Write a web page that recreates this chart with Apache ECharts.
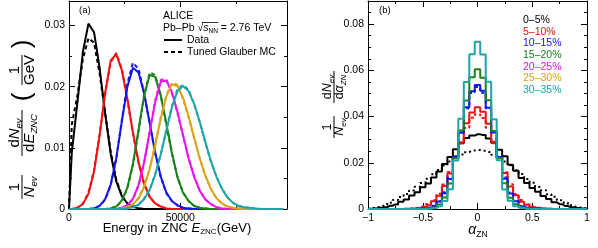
<!DOCTYPE html>
<html><head><meta charset="utf-8">
<script src="https://cdn.jsdelivr.net/npm/echarts@6/dist/echarts.min.js"></script>
<style>html,body{margin:0;padding:0;background:#fff}#c{width:598px;height:248px}</style>
</head><body><div id="c"></div>
<script>
const FONT = "'Liberation Sans', Arial, Helvetica, sans-serif";

// ---------- categories ----------
const centralities = ['0–5%','5–10%','10–15%','15–20%','20–25%','25–30%','30–35%'];
const colors = ['#000000','#ee1111','#1414ee','#1a801a','#ee11ee','#dba41a','#1ea5a5'];

// ---------- panel (a): E_ZNC histograms ----------
const energyBins = [0,1250,3750,6250,8750,11250,13750,16250,18750,21250,23750,
  26250,28750,31250,33750,36250,38750,41250,43750,46250,48750,
  51250,53750,56250,58750,61250,63750,66250,68750,71250,73750,
  76250,78750,81250,83750,86250,88750,91250,93750,96250];

const eData0 = [0,0.0092,0.0173,0.0257,0.0303,0.0289,0.0231,0.0156,0.0090,0.0045,0.0021,
  0.0009,0.0004,0.0001,0,0,0,0,0,0,0, 0,0,0,0,0,0,0,0,0,0, 0,0,0,0,0,0,0,0,0];
const eMC0 = [0,0.0138,0.0185,0.0245,0.0279,0.0272,0.0222,0.0157,0.0094,0.0048,0.0022,
  0.0009,0.0004,0.0001,0,0,0,0,0,0,0, 0,0,0,0,0,0,0,0,0,0, 0,0,0,0,0,0,0,0,0];
const eData1 = [0,0,0.0002,0.0008,0.0025,0.0061,0.0120,0.0190,0.0243,0.0253,0.0227,
  0.0180,0.0125,0.0077,0.0041,0.0020,0.0009,0.0004,0.0001,0,0, 0,0,0,0,0,0,0,0,0,0, 0,0,0,0,0,0,0,0,0];
const eMC1 = [0,0,0.0002,0.0009,0.0027,0.0063,0.0122,0.0188,0.0240,0.0255,0.0229,
  0.0178,0.0123,0.0076,0.0042,0.0020,0.0009,0.0004,0.0001,0,0, 0,0,0,0,0,0,0,0,0,0, 0,0,0,0,0,0,0,0,0];
const eData2 = [0,0,0,0,0,0.0001,0.0005,0.0016,0.0040,0.0083,0.0143,
  0.0200,0.0231,0.0223,0.0189,0.0141,0.0092,0.0053,0.0027,0.0013,0.0006,
  0.0002,0.0001,0,0,0,0,0,0,0,0, 0,0,0,0,0,0,0,0,0];
const eMC2 = [0,0,0,0,0,0.0001,0.0005,0.0015,0.0039,0.0082,0.0145,
  0.0205,0.0239,0.0229,0.0190,0.0140,0.0091,0.0052,0.0026,0.0013,0.0006,
  0.0002,0.0001,0,0,0,0,0,0,0,0, 0,0,0,0,0,0,0,0,0];
const eData3 = [0,0,0,0,0,0,0,0,0.0001,0.0004,0.0014,
  0.0035,0.0074,0.0129,0.0185,0.0219,0.0216,0.0186,0.0140,0.0092,0.0052,
  0.0027,0.0013,0.0005,0.0002,0.0001,0,0,0,0,0, 0,0,0,0,0,0,0,0,0];
const eMC3 = [0,0,0,0,0,0,0,0,0.0001,0.0004,0.0013,
  0.0034,0.0072,0.0127,0.0186,0.0223,0.0219,0.0185,0.0138,0.0091,0.0052,
  0.0027,0.0013,0.0005,0.0002,0.0001,0,0,0,0,0, 0,0,0,0,0,0,0,0,0];
const eData4 = [0,0,0,0,0,0,0,0,0,0,0.0002,
  0.0006,0.0017,0.0039,0.0076,0.0125,0.0175,0.0208,0.0210,0.0191,0.0159,
  0.0121,0.0083,0.0053,0.0030,0.0016,0.0008,0.0003,0.0001,0,0, 0,0,0,0,0,0,0,0,0];
const eMC4 = [0,0,0,0,0,0,0,0,0,0,0.0002,
  0.0006,0.0016,0.0038,0.0075,0.0126,0.0177,0.0211,0.0212,0.0190,0.0157,
  0.0120,0.0083,0.0053,0.0030,0.0016,0.0008,0.0003,0.0001,0,0, 0,0,0,0,0,0,0,0,0];
const eData5 = [0,0,0,0,0,0,0,0,0,0,0.0001,
  0.0003,0.0008,0.0017,0.0036,0.0065,0.0104,0.0148,0.0184,0.0204,0.0201,
  0.0182,0.0152,0.0117,0.0083,0.0055,0.0033,0.0018,0.0009,0.0004,0.0002,
  0.0001,0,0,0,0,0,0,0,0];
const eMC5 = [0,0,0,0,0,0,0,0,0,0,0.0001,
  0.0003,0.0008,0.0018,0.0037,0.0066,0.0106,0.0150,0.0186,0.0206,0.0203,
  0.0180,0.0150,0.0116,0.0083,0.0055,0.0033,0.0018,0.0009,0.0004,0.0002,
  0.0001,0,0,0,0,0,0,0,0];
const eData6 = [0,0,0,0,0,0,0,0,0,0,0,
  0.0001,0.0003,0.0007,0.0016,0.0031,0.0056,0.0089,0.0128,0.0166,0.0193,
  0.0201,0.0193,0.0172,0.0143,0.0110,0.0079,0.0053,0.0033,0.0019,0.0010,
  0.0005,0.0003,0.0002,0.0001,0,0,0,0,0];
const eMC6 = [0,0,0,0,0,0,0,0,0,0,0,
  0.0001,0.0003,0.0007,0.0017,0.0032,0.0057,0.0090,0.0129,0.0168,0.0196,
  0.0203,0.0195,0.0171,0.0142,0.0109,0.0078,0.0053,0.0033,0.0019,0.0010,
  0.0005,0.0003,0.0002,0.0001,0,0,0,0,0];

// ---------- panel (b): alpha_ZN histograms ----------
const alphaBins = [-1,-0.95,-0.9,-0.85,-0.8,-0.75,-0.7,-0.65,-0.6,-0.55,
  -0.5,-0.45,-0.4,-0.35,-0.3,-0.25,-0.2,-0.15,-0.1,-0.05,0,
  0.05,0.1,0.15,0.2,0.25,0.3,0.35,0.4,0.45,0.5,
  0.55,0.6,0.65,0.7,0.75,0.8,0.85,0.9,0.95,1];

const aData0 = [0.0001,0.0002,0.0005,0.0008,0.0014,0.0020,0.0031,0.0041,0.0058,0.0073,
  0.0094,0.0110,0.0136,0.0162,0.0195,0.0225,0.0259,0.0284,0.0307,0.0318,0.0323,
  0.0320,0.0305,0.0287,0.0256,0.0228,0.0192,0.0165,0.0134,0.0112,0.0091,
  0.0075,0.0056,0.0043,0.0029,0.0021,0.0013,0.0008,0.0004,0.0002,0.0001];
const aMC0 = [0.0001,0.0004,0.0009,0.0017,0.0027,0.0039,0.0052,0.0065,0.0080,0.0096,
  0.0113,0.0131,0.0150,0.0169,0.0188,0.0206,0.0222,0.0236,0.0246,0.0253,0.0255,
  0.0252,0.0247,0.0235,0.0223,0.0205,0.0189,0.0168,0.0151,0.0130,0.0114,
  0.0095,0.0081,0.0064,0.0053,0.0038,0.0028,0.0016,0.0009,0.0004,0.0001];
const aData1 = [0,0,0,0,0,0,0,0.0001,0.0002,0.0004,
  0.0009,0.0016,0.0033,0.0057,0.0099,0.0154,0.0226,0.0289,0.0371,0.0418,0.0440,
  0.0421,0.0369,0.0291,0.0224,0.0156,0.0097,0.0059,0.0031,0.0018,0.0008,
  0.0004,0.0002,0.0001,0,0,0,0,0,0,0];
const aMC1 = [0,0,0,0,0,0,0,0.0001,0.0002,0.0005,
  0.0011,0.0021,0.0038,0.0066,0.0106,0.0160,0.0222,0.0285,0.0350,0.0395,0.0410,
  0.0394,0.0352,0.0284,0.0223,0.0159,0.0107,0.0065,0.0039,0.0020,0.0011,
  0.0005,0.0002,0.0001,0,0,0,0,0,0,0];
const aData2 = [0,0,0,0,0,0,0,0,0,0.0001,
  0.0002,0.0005,0.0013,0.0032,0.0068,0.0130,0.0225,0.0330,0.0440,0.0510,0.0537,
  0.0512,0.0438,0.0331,0.0224,0.0131,0.0067,0.0033,0.0012,0.0005,0.0002,
  0.0001,0,0,0,0,0,0,0,0,0];
const aMC2 = [0,0,0,0,0,0,0,0,0,0.0001,
  0.0002,0.0005,0.0014,0.0034,0.0072,0.0135,0.0228,0.0332,0.0436,0.0502,0.0528,
  0.0503,0.0435,0.0333,0.0227,0.0136,0.0071,0.0035,0.0014,0.0005,0.0002,
  0.0001,0,0,0,0,0,0,0,0,0];
const aData3 = [0,0,0,0,0,0,0,0,0,0,
  0.0001,0.0002,0.0007,0.0020,0.0050,0.0110,0.0220,0.0340,0.0470,0.0570,0.0605,
  0.0568,0.0471,0.0338,0.0221,0.0111,0.0049,0.0021,0.0007,0.0002,0.0001,
  0,0,0,0,0,0,0,0,0,0];
const aData6 = [0,0,0,0,0,0,0,0,0,0,
  0,0.0001,0.0004,0.0012,0.0035,0.0085,0.0210,0.0390,0.0550,0.0670,0.0724,
  0.0668,0.0551,0.0388,0.0211,0.0084,0.0036,0.0012,0.0004,0.0001,0,
  0,0,0,0,0,0,0,0,0,0];

// ---------- tick labels ----------
const tickA_x = [0, 50000];
const tickA_y = [0, 0.01, 0.02, 0.03];
const tickB_x = [-1, -0.5, 0, 0.5, 1];
const tickB_y = [0, 0.02, 0.04, 0.06, 0.08];

// ---------- build ----------
function pairs(xs, ys) { return ys.map((y, i) => [xs[i], y]); }
function near(v, list) { return list.find(t => Math.abs(t - v) < 1e-9); }
function fmtNum(t) { if (t === 0) return '0'; return (t < 0 ? '\u2212' : '') + String(Math.abs(t)); }
function fmtY(t) { return t === 0 ? '0' : t.toFixed(2); }

function majorAxis(grid, pos, min, max, interval, labelFn) {
  return {
    type: 'value', gridIndex: grid, position: pos, min, max, interval,
    axisLine: { show: true, onZero: false, lineStyle: { color: '#000', width: 1 } },
    axisTick: { show: true, inside: true, length: 6, lineStyle: { color: '#000', width: 1 } },
    minorTick: { show: false }, splitLine: { show: false },
    axisLabel: labelFn ? { show: true, formatter: labelFn, color: '#000', fontSize: 10.5,
      fontFamily: FONT, margin: 4, showMinLabel: true, showMaxLabel: true } : { show: false }
  };
}
function minorAxis(grid, pos, min, max, interval) {
  return {
    type: 'value', gridIndex: grid, position: pos, min, max, interval,
    axisLine: { show: false, onZero: false },
    axisTick: { show: true, inside: true, length: 3, lineStyle: { color: '#000', width: 1 } },
    splitLine: { show: false }, axisLabel: { show: false }
  };
}

const labA_x = v => { const t = near(v, tickA_x); return t === undefined ? '' : String(t); };
const labA_y = v => { const t = near(v, tickA_y); return t === undefined ? '' : fmtY(t); };
const labB_x = v => { const t = near(v, tickB_x); return t === undefined ? '' : fmtNum(t); };
const labB_y = v => { const t = near(v, tickB_y); return t === undefined ? '' : fmtY(t); };

const xAxis = [
  majorAxis(0, 'bottom', 0, 98000, 50000, labA_x),
  majorAxis(0, 'top', 0, 98000, 50000, null),
  minorAxis(1, 'bottom', 0, 98000, 25000),
  minorAxis(1, 'top', 0, 98000, 25000),
  majorAxis(2, 'bottom', -1, 1, 0.5, labB_x),
  majorAxis(2, 'top', -1, 1, 0.5, null),
  minorAxis(3, 'bottom', -1, 1, 0.25),
  minorAxis(3, 'top', -1, 1, 0.25)
];
const yAxis = [
  majorAxis(0, 'left', 0, 0.034, 0.01, labA_y),
  majorAxis(0, 'right', 0, 0.034, 0.01, null),
  minorAxis(1, 'left', 0, 0.034, 0.005),
  minorAxis(1, 'right', 0, 0.034, 0.005),
  majorAxis(2, 'left', 0, 0.09, 0.02, labB_y),
  majorAxis(2, 'right', 0, 0.09, 0.02, null),
  minorAxis(3, 'left', 0, 0.09, 0.005),
  minorAxis(3, 'right', 0, 0.09, 0.005)
];

function hist(xs, ys, color, axis, dashed, z, step) {
  return {
    type: 'line', xAxisIndex: axis, yAxisIndex: axis, data: pairs(xs, ys),
    step: step ? 'middle' : false, symbol: 'none', silent: true, z: z,
    lineStyle: { color: color, width: 2, type: dashed ? dashed : 'solid' }
  };
}

const eDataSets = [eData0, eData1, eData2, eData3, eData4, eData5, eData6];
const eMCSets = [eMC0, eMC1, eMC2, eMC3, eMC4, eMC5, eMC6];
const series = [];
eDataSets.forEach((d, i) => {
  series.push(hist(energyBins, eMCSets[i], colors[i], 0, [4, 3], 2 + i * 2, false));
  series.push(hist(energyBins, d, colors[i], 0, null, 3 + i * 2, false));
});
series.push(hist(alphaBins, aMC0, colors[0], 4, [2, 3], 2, true));
series.push(hist(alphaBins, aData0, colors[0], 4, null, 3, true));
series.push(hist(alphaBins, aMC1, colors[1], 4, [3, 3], 4, true));
series.push(hist(alphaBins, aData1, colors[1], 4, null, 5, true));
series.push(hist(alphaBins, aMC2, colors[2], 4, [3, 3], 6, true));
series.push(hist(alphaBins, aData2, colors[2], 4, null, 7, true));
series.push(hist(alphaBins, aData3, colors[3], 4, null, 8, true));
series.push(hist(alphaBins, aData6, colors[6], 4, null, 9, true));

// ---------- text helpers (plain text pieces, positioned by font metrics) ----------
const mctx = document.createElement('canvas').getContext('2d');
function tw(t, fs, it) { mctx.font = (it ? 'italic ' : '') + fs + 'px ' + FONT; return mctx.measureText(t).width; }

function piece(x, y, t, fs, it, rot, color) {
  return { type: 'text', silent: true, x: x, y: y, rotation: rot ? Math.PI / 2 : 0,
    style: { x: 0, y: 0, text: t, fill: color || '#000', fontSize: fs, fontFamily: FONT,
      fontStyle: it ? 'italic' : 'normal', align: 'center', verticalAlign: 'middle' } };
}
// pieces: [text, fontSize, italic, sub]
function compound(x0, y0, pieces, rot, align, color) {
  const ws = pieces.map(p => tw(p[0], p[1], p[2]));
  const total = ws.reduce((a, b) => a + b, 0);
  let along = align === 'left' ? 0 : -total / 2;
  const els = [], pos = [];
  const mainFs = pieces[0][1];
  pieces.forEach((p, k) => {
    const c = along + ws[k] / 2;
    const perp = p[3] ? 0.32 * mainFs : 0;
    const sx = rot ? x0 + perp : x0 + c;
    const sy = rot ? y0 - c : y0 + perp;
    els.push(piece(sx, sy, p[0], p[1], p[2], rot, color));
    pos.push([x0 + along, ws[k]]);
    along += ws[k];
  });
  return { els, pos };
}
function ln(x1, y1, x2, y2, w, dash, color) {
  return { type: 'line', silent: true, shape: { x1, y1, x2, y2 },
    style: { stroke: color || '#000', lineWidth: w || 1, lineDash: dash || null } };
}

const graphic = [];
function add(c) { c.els.forEach(e => graphic.push(e)); return c; }

// panel (a) annotations
add(compound(79, 10, [['(a)', 9.5]], false, 'left'));
add(compound(163, 16, [['ALICE', 10.5]], false, 'left'));
const pb = add(compound(163, 28, [['Pb–Pb ', 10.5], ['√', 10.5], ['s', 10.5, true], ['NN', 6.5, false, true], [' = 2.76 TeV', 10.5]], false, 'left'));
graphic.push(ln(pb.pos[1][0] + pb.pos[1][1] * 0.75, 22.5, pb.pos[3][0] + pb.pos[3][1] + 0.5, 22.5, 0.8));
graphic.push(ln(164, 40, 182, 40, 2));
add(compound(187, 40, [['Data', 10.5]], false, 'left'));
graphic.push(ln(164, 52, 182, 52, 2, [4, 3]));
add(compound(187, 52, [['Tuned Glauber MC', 10.5]], false, 'left'));
add(compound(177, 228, [['Energy in ZNC ', 13], ['E', 13, true], ['ZNC', 8, false, true], ['(GeV)', 13]], false, 'center'));

// panel (a) y title (rotated)
const fsA = 15;
add(compound(15, 187, [['1', fsA]], true));
graphic.push(ln(22, 175, 22, 199, 1));
add(compound(30, 187, [['N', fsA, true], ['ev', 9.5, true, true]], true));
add(compound(15, 133, [['d', fsA], ['N', fsA, true], ['ev', 9.5, true, true]], true));
graphic.push(ln(22, 110, 22, 156, 1));
add(compound(30, 133, [['d', fsA], ['E', fsA, true], ['ZNC', 9.5, true, true]], true));
add(compound(23, 97, [['(', 26]], true));
add(compound(15, 70, [['1', fsA]], true));
graphic.push(ln(22, 55, 22, 85, 1));
add(compound(30, 70, [['GeV', fsA]], true));
add(compound(23, 44, [[')', 26]], true));

// panel (b) annotations
add(compound(379, 10, [['(b)', 9.5]], false, 'left'));
add(compound(478, 230, [['α', 14, true], ['ZN', 8.5, false, true]], false, 'center'));
const fsB = 12.5;
add(compound(328, 127, [['1', fsB]], true));
graphic.push(ln(334, 116, 334, 138, 1));
add(compound(340, 127, [['N', fsB, true], ['ev', 8, true, true]], true));
add(compound(328, 87, [['d', fsB], ['N', fsB, true], ['ev', 8, true, true]], true));
graphic.push(ln(334, 71, 334, 103, 1));
add(compound(340, 87, [['d', fsB], ['α', fsB, true], ['ZN', 8, true, true]], true));
centralities.forEach((c, i) => {
  add(compound(523, 20 + i * 11.7, [[c, 10.5]], false, 'left', colors[i]));
});

const chart = echarts.init(document.getElementById('c'), null, { renderer: 'canvas' });
chart.setOption({
  animation: false,
  backgroundColor: '#fff',
  grid: [
    { left: 69, right: 311, top: 1, bottom: 39 },
    { left: 69, right: 311, top: 1, bottom: 39 },
    { left: 368, right: 11, top: 1, bottom: 39 },
    { left: 368, right: 11, top: 1, bottom: 39 }
  ],
  xAxis, yAxis, series, graphic
});
</script></body></html>
